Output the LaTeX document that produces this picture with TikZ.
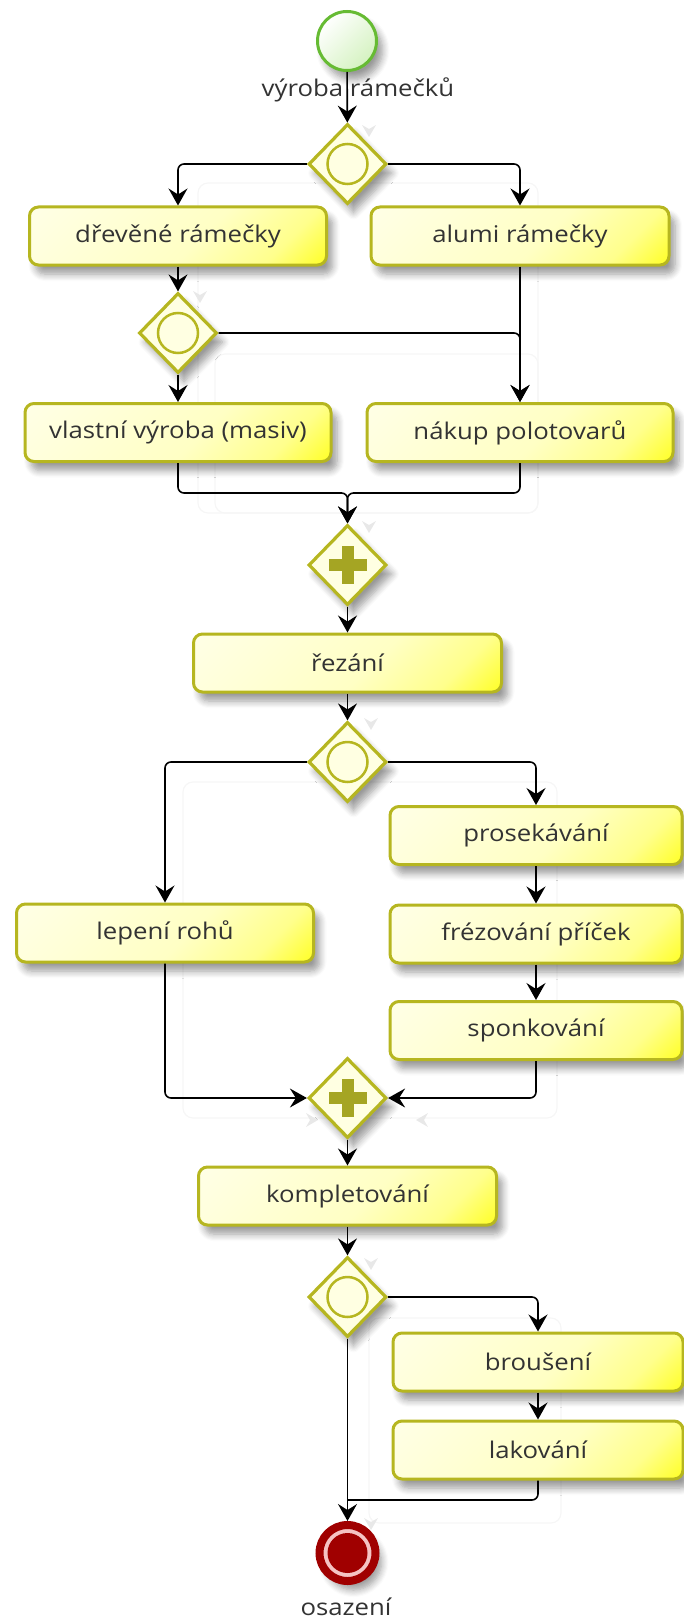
\documentclass[tikz,border=0pt]{standalone}
\usepackage{fontspec}
\setmainfont{Open Sans}[FakeStretch=1.12]
\usetikzlibrary{shapes.geometric,arrows.meta,shadows.blur,calc}

\definecolor{olivebd}{RGB}{182,182,32}
\definecolor{taskhi}{RGB}{255,255,230}
\definecolor{taskpale}{RGB}{255,255,196}
\definecolor{taskmid}{RGB}{255,255,140}
\definecolor{tasklo}{RGB}{255,255,40}
\definecolor{gwfill}{RGB}{255,255,226}
\definecolor{plusfill}{RGB}{165,165,35}
\definecolor{startbd}{RGB}{102,187,51}
\definecolor{startfill}{RGB}{212,242,192}
\definecolor{endred}{RGB}{160,0,0}
\definecolor{endring}{RGB}{245,195,195}
\definecolor{txt}{RGB}{51,51,51}
\definecolor{ghostline}{RGB}{246,246,246}
\definecolor{ghosttip}{RGB}{232,232,232}

% pale yellow that turns strong yellow towards one corner
\pgfdeclareverticalshading{taskshade}{100bp}{color(0bp)=(tasklo); color(15bp)=(tasklo);
  color(27bp)=(taskmid); color(45bp)=(taskpale); color(85bp)=(taskhi); color(100bp)=(taskhi)}

\tikzset{
  shadowed/.style={blur shadow={shadow xshift=6pt, shadow yshift=-9pt,
      shadow blur radius=7pt, shadow blur steps=7, shadow opacity=40}},
  task/.style={rectangle, rounded corners=9pt, draw=olivebd, line width=3pt,
    minimum width=#1, minimum height=58pt, inner sep=0pt,
    shade, shading=taskshade, shading angle=45, shadowed},
  gw/.style={diamond, draw=olivebd, line width=3.2pt, fill=gwfill,
    minimum width=78pt, minimum height=80pt, inner sep=0pt, shadowed},
  gwring/.style={draw=olivebd, line width=2.5pt},
  plussign/.style={fill=plusfill},
  startev/.style={circle, draw=startbd, line width=3pt, minimum size=59pt,
    inner sep=0pt, top color=white, bottom color=startfill,
    shading angle=45, shadowed},
  endev/.style={circle, draw=endred, line width=8pt, minimum size=56pt,
    inner sep=0pt, fill=endring, shadowed},
  conn/.style={draw=black, line width=1.6pt, rounded corners=6pt,
    -{Stealth[length=17pt,width=19pt,inset=6pt]}},
  plainline/.style={draw=black, line width=1.6pt, rounded corners=6pt},
  ghost/.style={draw=ghostline, line width=1.2pt, rounded corners=10pt},
  ghostfill/.style={fill=ghosttip},
}

\newcommand\ghostdown[1]{\fill[ghostfill] #1 -- ++(-7,-12) -- ++(7,4) -- ++(7,-4) -- cycle;}
\newcommand\ghostright[1]{\fill[ghostfill] #1 -- ++(-12,-7) -- ++(4,7) -- ++(-4,7) -- cycle;}
\newcommand\ghostleft[1]{\fill[ghostfill] #1 -- ++(12,-7) -- ++(-4,7) -- ++(4,7) -- cycle;}

\begin{document}
\begin{tikzpicture}[x=1pt, y=-1pt, font=\fontsize{23}{27}\selectfont, text=txt]
  \useasboundingbox (0,0) rectangle (684,1621);

  % faint outlines of earlier groupings
  \draw[ghost] (198,183) rectangle (538,513);
  \draw[ghost] (215,354) rectangle (538,513);
  \draw[ghost] (183,782) rectangle (557,1118);
  \draw[ghost] (369,1318) rectangle (561,1523);
  \ghostdown{(369,137)}
  \ghostdown{(200,303)}
  \ghostdown{(369,533)}
  \ghostdown{(371,730)}
  \ghostright{(318,1120)}
  \ghostleft{(416,1120)}
  \ghostdown{(371,1270)}
  \ghostdown{(371,1530)}

  % events, gateways and tasks
  \node[startev] (start) at (347,41) {};
  \node (startlbl) at (358,90) {výroba rámečků};
  \node[gw] (gw1) at (347.5,164) {};
  \node[task=297pt] (drev) at (178,236) {dřevěné rámečky};
  \node[task=298pt] (alumi) at (520,236) {alumi rámečky};
  \node[gw] (gw2) at (178,333) {};
  \node[task=306pt] (vlast) at (178,432.5) {vlastní výroba (masiv)};
  \node[task=306pt] (nakup) at (520,432.5) {nákup polotovarů};
  \node[gw] (gw3) at (347.5,565) {};
  \node[task=308pt] (rez) at (347.5,663) {řezání};
  \node[gw] (gw4) at (347.5,762) {};
  \node[task=297pt] (lep) at (165,933) {lepení rohů};
  \node[task=292pt] (pros) at (536,835.5) {prosekávání};
  \node[task=292pt] (frez) at (536,934) {frézování příček};
  \node[task=292pt] (spon) at (536,1030.5) {sponkování};
  \node[gw] (gw5) at (347.5,1098) {};
  \node[task=298pt] (kompl) at (347.5,1196) {kompletování};
  \node[gw] (gw6) at (347.5,1297) {};
  \node[task=290pt] (brous) at (538,1362) {broušení};
  \node[task=290pt] (lak) at (538,1450) {lakování};
  \node[endev] (end) at (347.5,1553) {};
  \node (endlbl) at (346,1607) {osazení};

  % gateway markers
  \foreach \g in {gw1,gw2,gw4,gw6}{
    \draw[gwring] (\g.center) circle (20);
  }
  \foreach \g in {gw3,gw5}{
    \fill[plussign] ($(\g.center)+(-6,-19)$) rectangle ($(\g.center)+(6,19)$);
    \fill[plussign] ($(\g.center)+(-19,-6)$) rectangle ($(\g.center)+(19,6)$);
  }
  \fill[endred] (end.center) circle (20);

  % sequence flows
  \draw[conn] (start) -- (gw1);
  \draw[conn] (gw1.west) -| (drev.north);
  \draw[conn] (gw1.east) -| (alumi.north);
  \draw[conn] (drev) -- (gw2);
  \draw[conn] (gw2) -- (vlast);
  \draw[conn] (gw2.east) -| (nakup.north);
  \draw[conn] (alumi) -- (nakup);
  \draw[conn] (vlast.south) -- ++(0,30) -| (gw3.north);
  \draw[conn] (nakup.south) -- ++(0,30) -| (gw3.north);
  \draw[conn] (gw3) -- (rez);
  \draw[conn] (rez) -- (gw4);
  \draw[conn] (gw4.west) -| (lep.north);
  \draw[conn] (gw4.east) -| (pros.north);
  \draw[conn] (pros) -- (frez);
  \draw[conn] (frez) -- (spon);
  \draw[conn] (lep.south) |- (gw5.west);
  \draw[conn] (spon.south) |- (gw5.east);
  \draw[conn] (gw5) -- (kompl);
  \draw[conn] (kompl) -- (gw6);
  \draw[conn] (gw6.east) -| (brous.north);
  \draw[conn] (brous) -- (lak);
  \draw[conn] (gw6) -- (end);
  \coordinate (j6) at (347.5,1500);
  \draw[plainline] (lak.south) |- (j6);
\end{tikzpicture}
\end{document}
